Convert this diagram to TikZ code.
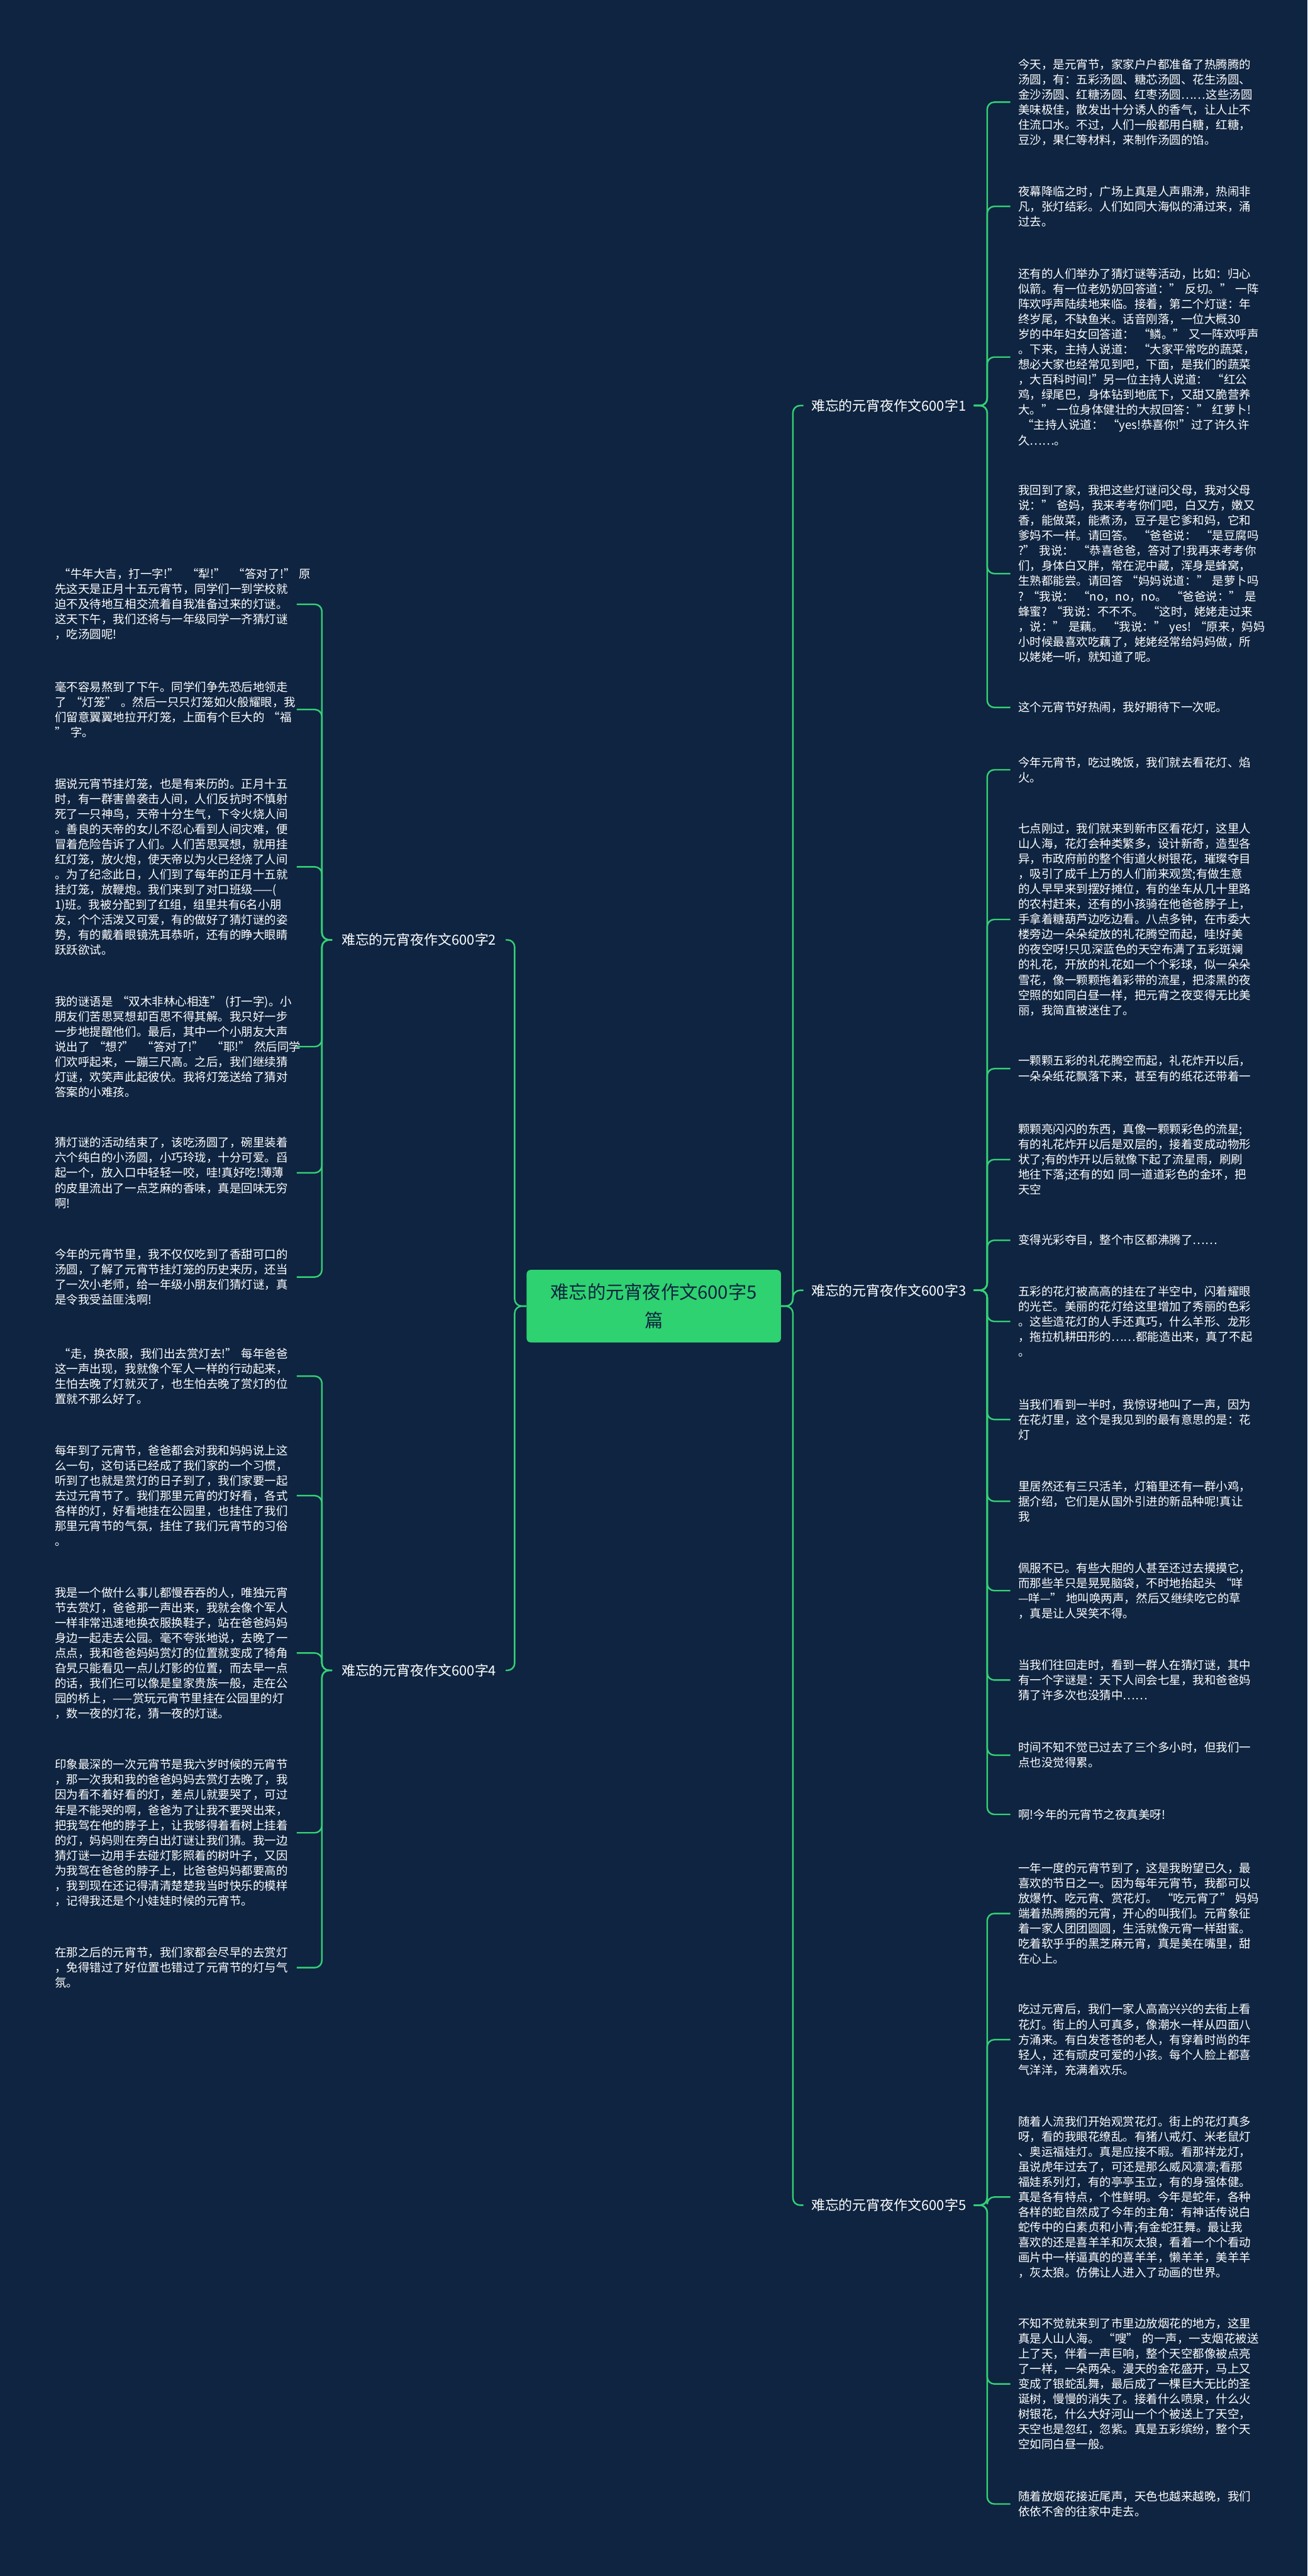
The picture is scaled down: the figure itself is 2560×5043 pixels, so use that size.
\documentclass[tikz,border=0pt]{standalone}
\usepackage{fontspec}
\setmainfont{Noto Sans CJK SC}
\definecolor{bgnavy}{RGB}{14,36,64}
\definecolor{linegreen}{RGB}{52,208,118}
\definecolor{ctrgreen}{RGB}{46,210,112}
\newcommand{\mylf}{\fontsize{11.4pt}{14.8pt}\selectfont}
\newcommand{\mybr}{\fontsize{13.5pt}{16pt}\selectfont}
\newcommand{\myctr}{\fontsize{18pt}{27.5pt}\selectfont}
\tikzset{
  conn/.style={draw=linegreen, line width=1.5pt, rounded corners=7pt},
  leafR/.style={anchor=west, text=white, font=\mylf, align=left, text width=229pt, inner xsep=7.5pt, inner ysep=2pt},
  leafL/.style={anchor=east, text=white, font=\mylf, align=left, text width=229pt, inner xsep=7.5pt, inner ysep=2pt},
  brR/.style={anchor=west, text=white, font=\mybr, inner xsep=7.5pt},
  brL/.style={anchor=east, text=white, font=\mybr, inner xsep=9pt},
  ctrbox/.style={fill=ctrgreen, text=bgnavy, font=\myctr, align=center, rounded corners=4pt, minimum width=249pt, minimum height=71pt, inner sep=2pt}
}
\begin{document}
\begin{tikzpicture}[x=0.5pt,y=-0.5pt]
\fill[bgnavy] (0,0) rectangle (2560,5043);
\useasboundingbox (0,0) rectangle (2560,5043);

% center
\node[ctrbox] (ctr) at (1280,2557) {难忘的元宵夜作文600字5\\篇};

% branches
\node[brR] (b1) at (1573,794) {难忘的元宵夜作文600字1};
\node[brR] (b3) at (1573,2526) {难忘的元宵夜作文600字3};
\node[brR] (b5) at (1573,4317) {难忘的元宵夜作文600字5};
\node[brL] (b2) at (990,1840) {难忘的元宵夜作文600字2};
\node[brL] (b4) at (990,3270) {难忘的元宵夜作文600字4};

% right leaves, branch 1
\node[leafR] (r1a) at (1978,200) {今天，是元宵节，家家户户都准备了热腾腾的\\汤圆，有：五彩汤圆、糖芯汤圆、花生汤圆、\\金沙汤圆、红糖汤圆、红枣汤圆……这些汤圆\\美味极佳，散发出十分诱人的香气，让人止不\\住流口水。不过，人们一般都用白糖，红糖，\\豆沙，果仁等材料，来制作汤圆的馅。};
\node[leafR] (r1b) at (1978,404) {夜幕降临之时，广场上真是人声鼎沸，热闹非\\凡，张灯结彩。人们如同大海似的涌过来，涌\\过去。};
\node[leafR] (r1c) at (1978,699) {还有的人们举办了猜灯谜等活动，比如：归心\\似箭。有一位老奶奶回答道：”~反切。”~一阵\\阵欢呼声陆续地来临。接着，第二个灯谜：年\\终岁尾，不缺鱼米。话音刚落，一位大概30\\岁的中年妇女回答道：~“鳞。”~又一阵欢呼声\\。下来，主持人说道：~“大家平常吃的蔬菜，\\想必大家也经常见到吧，下面，是我们的蔬菜\\，大百科时间!”另一位主持人说道：~“红公\\鸡，绿尾巴，身体钻到地底下，又甜又脆营养\\大。”~一位身体健壮的大叔回答：”~红萝卜!\\~“主持人说道：~“yes!恭喜你!”过了许久许\\久……。};
\node[leafR] (r1d) at (1978,1123) {我回到了家，我把这些灯谜问父母，我对父母\\说：”~爸妈，我来考考你们吧，白又方，嫩又\\香，能做菜，能煮汤，豆子是它爹和妈，它和\\爹妈不一样。请回答。~“爸爸说：~“是豆腐吗\\?”~我说：~“恭喜爸爸，答对了!我再来考考你\\们，身体白又胖，常在泥中藏，浑身是蜂窝，\\生熟都能尝。请回答~“妈妈说道：”~是萝卜吗\\?~“我说：~“no，no，no。~“爸爸说：”~是\\蜂蜜?~“我说：不不不。~“这时，姥姥走过来\\，说：”~是藕。~“我说：”~yes!~“原来，妈妈\\小时候最喜欢吃藕了，姥姥经常给妈妈做，所\\以姥姥一听，就知道了呢。};
\node[leafR] (r1e) at (1978,1385) {这个元宵节好热闹，我好期待下一次呢。};

% right leaves, branch 3
\node[leafR] (r3a) at (1978,1507) {今年元宵节，吃过晚饭，我们就去看花灯、焰\\火。};
\node[leafR] (r3b) at (1978,1800) {七点刚过，我们就来到新市区看花灯，这里人\\山人海，花灯会种类繁多，设计新奇，造型各\\异，市政府前的整个街道火树银花，璀璨夺目\\，吸引了成千上万的人们前来观赏;有做生意\\的人早早来到摆好摊位，有的坐车从几十里路\\的农村赶来，还有的小孩骑在他爸爸脖子上，\\手拿着糖葫芦边吃边看。八点多钟，在市委大\\楼旁边一朵朵绽放的礼花腾空而起，哇!好美\\的夜空呀!只见深蓝色的天空布满了五彩斑斓\\的礼花，开放的礼花如一个个彩球，似一朵朵\\雪花，像一颗颗拖着彩带的流星，把漆黑的夜\\空照的如同白昼一样，把元宵之夜变得无比美\\丽，我简直被迷住了。};
\node[leafR] (r3c) at (1978,2092) {一颗颗五彩的礼花腾空而起，礼花炸开以后，\\一朵朵纸花飘落下来，甚至有的纸花还带着一};
\node[leafR] (r3d) at (1978,2270) {颗颗亮闪闪的东西，真像一颗颗彩色的流星;\\有的礼花炸开以后是双层的，接着变成动物形\\状了;有的炸开以后就像下起了流星雨，刷刷\\地往下落;还有的如~同一道道彩色的金环，把\\天空};
\node[leafR] (r3e) at (1978,2428) {变得光彩夺目，整个市区都沸腾了……};
\node[leafR] (r3f) at (1978,2587) {五彩的花灯被高高的挂在了半空中，闪着耀眼\\的光芒。美丽的花灯给这里增加了秀丽的色彩\\。这些造花灯的人手还真巧，什么羊形、龙形\\，拖拉机耕田形的……都能造出来，真了不起\\。};
\node[leafR] (r3g) at (1978,2779) {当我们看到一半时，我惊讶地叫了一声，因为\\在花灯里，这个是我见到的最有意思的是：花\\灯};
\node[leafR] (r3h) at (1978,2939) {里居然还有三只活羊，灯箱里还有一群小鸡，\\据介绍，它们是从国外引进的新品种呢!真让\\我};
\node[leafR] (r3i) at (1978,3114) {佩服不已。有些大胆的人甚至还过去摸摸它，\\而那些羊只是晃晃脑袋，不时地抬起头~“咩\\—咩—”~地叫唤两声，然后又继续吃它的草\\，真是让人哭笑不得。};
\node[leafR] (r3j) at (1978,3289) {当我们往回走时，看到一群人在猜灯谜，其中\\有一个字谜是：天下人间会七星，我和爸爸妈\\猜了许多次也没猜中……};
\node[leafR] (r3k) at (1978,3436) {时间不知不觉已过去了三个多小时，但我们一\\点也没觉得累。};
\node[leafR] (r3l) at (1978,3552) {啊!今年的元宵节之夜真美呀!};

% right leaves, branch 5
\node[leafR] (r5a) at (1978,3746) {一年一度的元宵节到了，这是我盼望已久，最\\喜欢的节日之一。因为每年元宵节，我都可以\\放爆竹、吃元宵、赏花灯。~“吃元宵了”~妈妈\\端着热腾腾的元宵，开心的叫我们。元宵象征\\着一家人团团圆圆，生活就像元宵一样甜蜜。\\吃着软乎乎的黑芝麻元宵，真是美在嘴里，甜\\在心上。};
\node[leafR] (r5b) at (1978,3993) {吃过元宵后，我们一家人高高兴兴的去街上看\\花灯。街上的人可真多，像潮水一样从四面八\\方涌来。有白发苍苍的老人，有穿着时尚的年\\轻人，还有顽皮可爱的小孩。每个人脸上都喜\\气洋洋，充满着欢乐。};
\node[leafR] (r5c) at (1978,4301) {随着人流我们开始观赏花灯。街上的花灯真多\\呀，看的我眼花缭乱。有猪八戒灯、米老鼠灯\\、奥运福娃灯。真是应接不暇。看那祥龙灯，\\虽说虎年过去了，可还是那么威风凛凛;看那\\福娃系列灯，有的亭亭玉立，有的身强体健。\\真是各有特点，个性鲜明。今年是蛇年，各种\\各样的蛇自然成了今年的主角：有神话传说白\\蛇传中的白素贞和小青;有金蛇狂舞。最让我\\喜欢的还是喜羊羊和灰太狼，看着一个个看动\\画片中一样逼真的的喜羊羊，懒羊羊，美羊羊\\，灰太狼。仿佛让人进入了动画的世界。};
\node[leafR] (r5d) at (1978,4667) {不知不觉就来到了市里边放烟花的地方，这里\\真是人山人海。~“嗖”~的一声，一支烟花被送\\上了天，伴着一声巨响，整个天空都像被点亮\\了一样，一朵两朵。漫天的金花盛开，马上又\\变成了银蛇乱舞，最后成了一棵巨大无比的圣\\诞树，慢慢的消失了。接着什么喷泉，什么火\\树银花，什么大好河山一个个被送上了天空，\\天空也是忽红，忽紫。真是五彩缤纷，整个天\\空如同白昼一般。};
\node[leafR] (r5e) at (1978,4902) {随着放烟花接近尾声，天色也越来越晚，我们\\依依不舍的往家中走去。};

% left leaves, branch 2
\node[leafL] (l2a) at (581,1183) {~“牛年大吉，打一字!”~~“犁!”~~“答对了!”~原\\先这天是正月十五元宵节，同学们一到学校就\\迫不及待地互相交流着自我准备过来的灯谜。\\这天下午，我们还将与一年级同学一齐猜灯谜\\，吃汤圆呢!};
\node[leafL] (l2b) at (581,1389) {毫不容易熬到了下午。同学们争先恐后地领走\\了~“灯笼”~。然后一只只灯笼如火般耀眼，我\\们留意翼翼地拉开灯笼，上面有个巨大的~“福\\”~字。};
\node[leafL] (l2c) at (581,1697) {据说元宵节挂灯笼，也是有来历的。正月十五\\时，有一群害兽袭击人间，人们反抗时不慎射\\死了一只神鸟，天帝十分生气，下令火烧人间\\。善良的天帝的女儿不忍心看到人间灾难，便\\冒着危险告诉了人们。人们苦思冥想，就用挂\\红灯笼，放火炮，使天帝以为火已经烧了人间\\。为了纪念此日，人们到了每年的正月十五就\\挂灯笼，放鞭炮。我们来到了对口班级——(\\1)班。我被分配到了红组，组里共有6名小朋\\友，个个活泼又可爱，有的做好了猜灯谜的姿\\势，有的戴着眼镜洗耳恭听，还有的睁大眼睛\\跃跃欲试。};
\node[leafL] (l2d) at (581,2049) {我的谜语是~“双木非林心相连”~(打一字)。小\\朋友们苦思冥想却百思不得其解。我只好一步\\一步地提醒他们。最后，其中一个小朋友大声\\说出了~“想?”~~“答对了!”~~“耶!”~然后同学\\们欢呼起来，一蹦三尺高。之后，我们继续猜\\灯谜，欢笑声此起彼伏。我将灯笼送给了猜对\\答案的小难孩。};
\node[leafL] (l2e) at (581,2296) {猜灯谜的活动结束了，该吃汤圆了，碗里装着\\六个纯白的小汤圆，小巧玲珑，十分可爱。舀\\起一个，放入口中轻轻一咬，哇!真好吃!薄薄\\的皮里流出了一点芝麻的香味，真是回味无穷\\啊!};
\node[leafL] (l2f) at (581,2500) {今年的元宵节里，我不仅仅吃到了香甜可口的\\汤圆，了解了元宵节挂灯笼的历史来历，还当\\了一次小老师，给一年级小朋友们猜灯谜，真\\是令我受益匪浅啊!};

% left leaves, branch 4
\node[leafL] (l4a) at (581,2694) {~“走，换衣服，我们出去赏灯去!”~每年爸爸\\这一声出现，我就像个军人一样的行动起来，\\生怕去晚了灯就灭了，也生怕去晚了赏灯的位\\置就不那么好了。};
\node[leafL] (l4b) at (581,2928) {每年到了元宵节，爸爸都会对我和妈妈说上这\\么一句，这句话已经成了我们家的一个习惯，\\听到了也就是赏灯的日子到了，我们家要一起\\去过元宵节了。我们那里元宵的灯好看，各式\\各样的灯，好看地挂在公园里，也挂住了我们\\那里元宵节的气氛，挂住了我们元宵节的习俗\\。};
\node[leafL] (l4c) at (581,3236) {我是一个做什么事儿都慢吞吞的人，唯独元宵\\节去赏灯，爸爸那一声出来，我就会像个军人\\一样非常迅速地换衣服换鞋子，站在爸爸妈妈\\身边一起走去公园。毫不夸张地说，去晚了一\\点点，我和爸爸妈妈赏灯的位置就变成了犄角\\旮旯只能看见一点儿灯影的位置，而去早一点\\的话，我们仨可以像是皇家贵族一般，走在公\\园的桥上，——赏玩元宵节里挂在公园里的灯\\，数一夜的灯花，猜一夜的灯谜。};
\node[leafL] (l4d) at (581,3588) {印象最深的一次元宵节是我六岁时候的元宵节\\，那一次我和我的爸爸妈妈去赏灯去晚了，我\\因为看不着好看的灯，差点儿就要哭了，可过\\年是不能哭的啊，爸爸为了让我不要哭出来，\\把我驾在他的脖子上，让我够得着看树上挂着\\的灯，妈妈则在旁白出灯谜让我们猜。我一边\\猜灯谜一边用手去碰灯影照着的树叶子，又因\\为我驾在爸爸的脖子上，比爸爸妈妈都要高的\\，我到现在还记得清清楚楚我当时快乐的模样\\，记得我还是个小娃娃时候的元宵节。};
\node[leafL] (l4e) at (581,3852) {在那之后的元宵节，我们家都会尽早的去赏灯\\，免得错过了好位置也错过了元宵节的灯与气\\氛。};

% connectors: center to branches
\foreach \b in {b1,b3,b5} \draw[conn] (ctr.east) -- ++(23,0) |- (\b.west);
\foreach \b in {b2,b4} \draw[conn] (ctr.west) -- ++(-23,0) |- (\b.east);

% branch to leaves
\foreach \n in {r1a,r1b,r1c,r1d,r1e} \draw[conn] (b1.east) -- ++(26,0) |- (\n.west);
\foreach \n in {r3a,r3b,r3c,r3d,r3e,r3f,r3g,r3h,r3i,r3j,r3k,r3l} \draw[conn] (b3.east) -- ++(26,0) |- (\n.west);
\foreach \n in {r5a,r5b,r5c,r5d,r5e} \draw[conn] (b5.east) -- ++(26,0) |- (\n.west);
\foreach \n in {l2a,l2b,l2c,l2d,l2e,l2f} \draw[conn] (b2.west) -- ++(-20,0) |- (\n.east);
\foreach \n in {l4a,l4b,l4c,l4d,l4e} \draw[conn] (b4.west) -- ++(-20,0) |- (\n.east);
\end{tikzpicture}
\end{document}
